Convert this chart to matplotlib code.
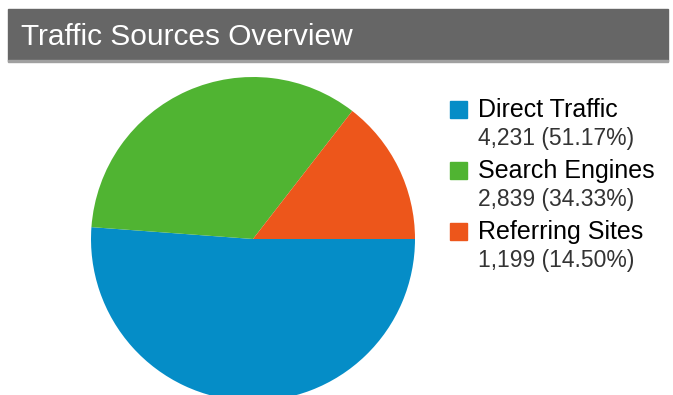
import matplotlib.pyplot as plt
from matplotlib.patches import Rectangle

plt.rcParams['font.family'] = ['Liberation Sans', 'DejaVu Sans']

labels = ["Direct Traffic", "Search Engines", "Referring Sites"]
visits = [4231, 2839, 1199]
colors = ["#058DC7", "#50B432", "#ED561B"]
title = "Traffic Sources Overview"

W, H = 673, 395
fig = plt.figure(figsize=(W / 100, H / 100), dpi=100)
ax = fig.add_axes([0, 0, 1, 1])

# pie, starting at 3 o'clock and running clockwise
ax.pie(visits, colors=colors, startangle=0, counterclock=False,
       center=(253, H - 239), radius=162, wedgeprops=dict(linewidth=0))

# title bar
ax.add_patch(Rectangle((8, H - 61), 660, 52, color="#666666", zorder=3))
ax.add_patch(Rectangle((8, H - 62), 660, 2, color="#a0a0a0", zorder=3))
ax.text(21, H - 45, title, color="white", fontsize=21.5, va="baseline",
        ha="left", zorder=4)

# legend
total = sum(visits)
for i, (lab, v, c) in enumerate(zip(labels, visits, colors)):
    top = 101 + i * 61
    ax.add_patch(Rectangle((450, H - top - 17), 17, 17, color=c, zorder=3))
    ax.text(478, H - (top + 16), lab, fontsize=18, color="#000000",
            va="baseline", ha="left")
    ax.text(478, H - (top + 44), f"{v:,} ({v / total * 100:.2f}%)",
            fontsize=16.5, color="#333333", va="baseline", ha="left")

ax.set_xlim(0, W)
ax.set_ylim(0, H)
ax.set_aspect("auto")
ax.axis("off")

fig.savefig("out.png", dpi=100)
plt.close(fig)
